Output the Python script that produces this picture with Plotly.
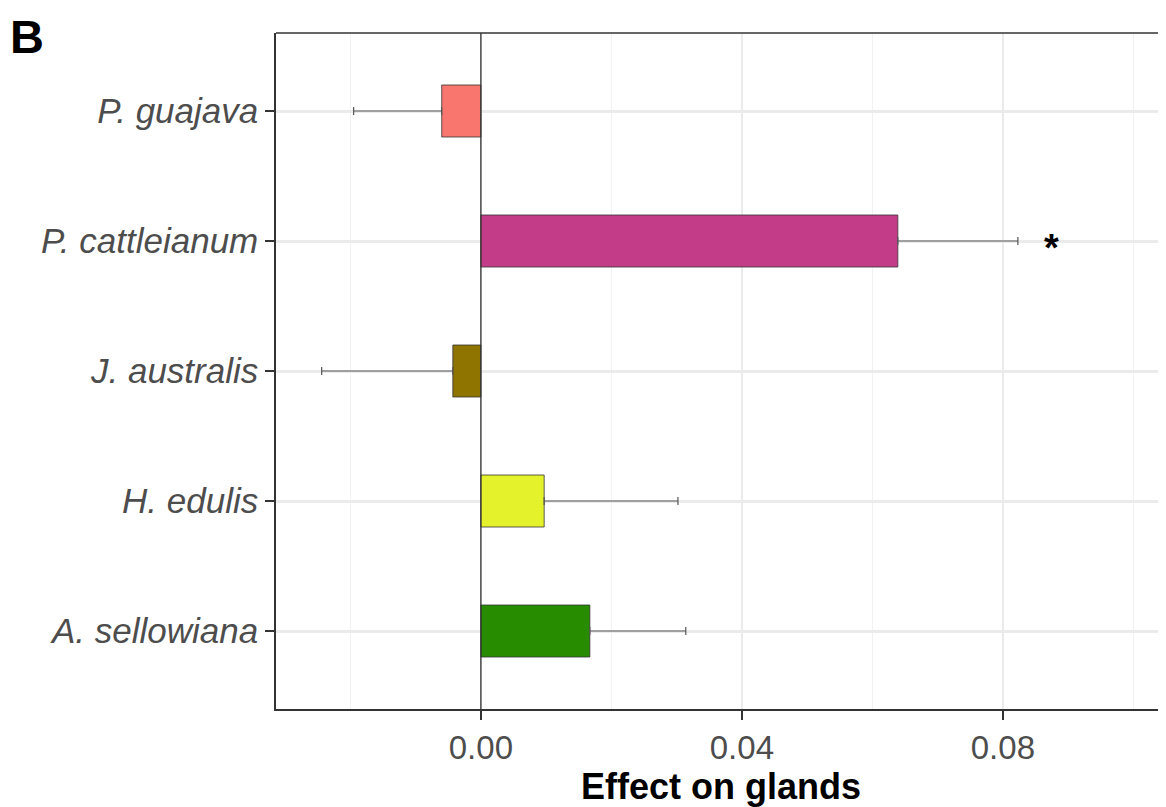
import plotly.graph_objects as go

species = ["P. guajava", "P. cattleianum", "J. australis", "H. edulis", "A. sellowiana"]
effect = [-0.0060, 0.0639, -0.0043, 0.0097, 0.0167]
err = [0.0135, 0.0184, 0.0201, 0.0205, 0.0147]
colors = ["#F8766D", "#C33C87", "#8F7400", "#E4F22C", "#288C00"]
sig_species = "P. cattleianum"
sig_x = 0.0874
x_ticks = [0.00, 0.04, 0.08]
x_tick_labels = ["0.00", "0.04", "0.08"]
x_minor = [-0.02, 0.02, 0.06, 0.10]

err_plus = [e if v >= 0 else 0 for v, e in zip(effect, err)]
err_minus = [e if v < 0 else 0 for v, e in zip(effect, err)]

FONT = "Liberation Sans, Arial, Helvetica"

fig = go.Figure()
fig.add_trace(go.Bar(
    x=effect, y=species, orientation="h", width=0.4,
    marker=dict(color=colors, line=dict(color="#333333", width=0.8)),
    error_x=dict(type="data", symmetric=False, array=err_plus, arrayminus=err_minus,
                 color="#555555", thickness=1.2, width=4),
    showlegend=False,
))

fig.add_annotation(x=sig_x, y=sig_species, text="<b>*</b>", showarrow=False,
                   font=dict(family=FONT, size=38, color="black"),
                   yshift=-7)

fig.add_annotation(x=0, y=1, xref="paper", yref="paper", xanchor="left", yanchor="top",
                   text="<b>B</b>", showarrow=False, xshift=-267, yshift=24, borderpad=0,
                   font=dict(family=FONT, size=47, color="black"))

# zero line
fig.add_shape(type="line", x0=0, x1=0, y0=0, y1=1, xref="x", yref="paper",
              line=dict(color="#333333", width=1.3), layer="above")
# top border
fig.add_shape(type="line", x0=0, x1=1, y0=1, y1=1, xref="paper", yref="paper",
              line=dict(color="#333333", width=1.5))

fig.update_layout(
    width=1158, height=799,
    margin=dict(l=268, r=0, t=25, b=98),
    plot_bgcolor="white", paper_bgcolor="white",
    font=dict(family=FONT, color="#4D4D4D"),
    xaxis=dict(
        range=[-0.0314, 0.1050], tickvals=x_ticks, ticktext=x_tick_labels,
        ticks="outside", ticklen=9, tickwidth=1.5, tickcolor="#333333",
        tickfont=dict(size=33, color="#4D4D4D"),
        showgrid=True, gridcolor="#EBEBEB", gridwidth=1.8,
        minor=dict(tickvals=x_minor, showgrid=True, gridcolor="#F2F2F2", gridwidth=1.1, ticks=""),
        showline=True, linecolor="#333333", linewidth=1.5,
        zeroline=False,
        title=dict(text="<b>Effect on glands</b>", font=dict(size=36, color="black"), standoff=8),
    ),
    yaxis=dict(
        categoryorder="array", categoryarray=species,
        range=[4.6, -0.6],
        ticks="outside", ticklen=9, tickwidth=1.5, tickcolor="#333333",
        tickfont=dict(size=35, color="#4D4D4D"),
        showgrid=True, gridcolor="#EBEBEB", gridwidth=2.5,
        showline=True, linecolor="#333333", linewidth=1.5,
        ticksuffix=" ",
    ),
)
fig.update_yaxes(tickvals=species, ticktext=["<i>%s</i>" % s for s in species])

fig.write_html("out.html")
